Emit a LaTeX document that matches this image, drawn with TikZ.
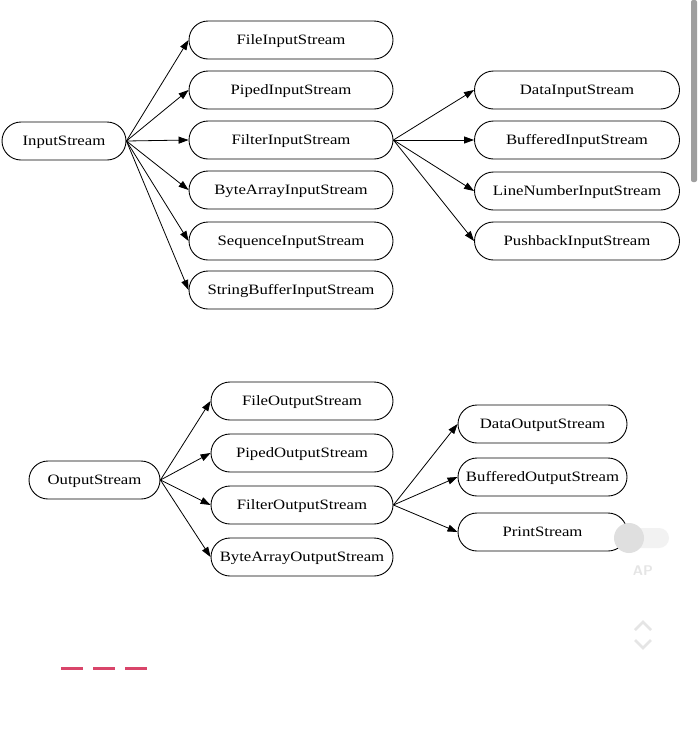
\documentclass[tikz,border=0pt]{standalone}
\usepackage{fontspec}
\setmainfont{Liberation Serif}[FakeStretch=1.17]
\usetikzlibrary{shapes.misc,arrows.meta}
\begin{document}
\begin{tikzpicture}[x=1pt,y=-1pt,
  cls/.style={draw, rounded rectangle, line width=0.9pt, minimum height=38pt, inner sep=0pt,
    text height=11.5pt, text depth=3pt, font=\fontsize{14.3}{16}\selectfont},
  edge/.style={line width=0.8pt, -{Triangle[length=10pt,width=7pt]}}]
\useasboundingbox[fill=white] (0,0) rectangle (697,745);
% InputStream tree
\node[cls, minimum width=124pt] (is) at (64,141) {InputStream};
\node[cls, minimum width=204pt] (fis) at (291,40) {FileInputStream};
\node[cls, minimum width=204pt] (pis) at (291,90) {PipedInputStream};
\node[cls, minimum width=204pt] (filis) at (291,140) {FilterInputStream};
\node[cls, minimum width=204pt] (bais) at (291,190) {ByteArrayInputStream};
\node[cls, minimum width=204pt] (sis) at (291,241) {SequenceInputStream};
\node[cls, minimum width=204pt] (sbis) at (291,290) {StringBufferInputStream};
\node[cls, minimum width=205pt] (dis) at (577,90) {DataInputStream};
\node[cls, minimum width=205pt] (bis) at (577,140) {BufferedInputStream};
\node[cls, minimum width=205pt] (lnis) at (577,191) {LineNumberInputStream};
\node[cls, minimum width=205pt] (pbis) at (577,241) {PushbackInputStream};
\foreach \t in {fis,pis,filis,bais,sis,sbis} \draw[edge] (is.east) -- (\t.west);
\foreach \t in {dis,bis,lnis,pbis} \draw[edge] (filis.east) -- (\t.west);
% OutputStream tree
\node[cls, minimum width=131pt] (os) at (94.5,480) {OutputStream};
\node[cls, minimum width=182pt] (fos) at (302,401) {FileOutputStream};
\node[cls, minimum width=182pt] (pos) at (302,453) {PipedOutputStream};
\node[cls, minimum width=182pt] (filos) at (302,505) {FilterOutputStream};
\node[cls, minimum width=182pt] (baos) at (302,557) {ByteArrayOutputStream};
\node[cls, minimum width=169pt] (dos) at (542.5,424) {DataOutputStream};
\node[cls, minimum width=169pt] (bos) at (542.5,477) {BufferedOutputStream};
\node[cls, minimum width=169pt] (ps) at (542.5,532) {PrintStream};
\foreach \t in {fos,pos,filos,baos} \draw[edge] (os.east) -- (\t.west);
\foreach \t in {dos,bos,ps} \draw[edge] (filos.east) -- (\t.west);
% screen overlay marks
\fill[gray!75, rounded corners=2pt] (691,0) rectangle (697,182);
\fill[gray!10, rounded corners=10pt] (620,528) rectangle (669,548);
\fill[gray!25] (629,538) circle (15pt);
\node[text=gray!20, font=\sffamily\bfseries\fontsize{14}{16}\selectfont] (ap) at (643,571) {AP};
\draw[gray!20, line width=2.5pt] (635,630) -- (643,622) -- (651,630);
\draw[gray!20, line width=2.5pt] (635,640) -- (643,648) -- (651,640);
\draw[color={rgb,255:red,217;green,69;blue,106}, line width=3pt] (61,668) -- (83,668) (93,668) -- (115,668) (125,668) -- (147,668);
\end{tikzpicture}
\end{document}
